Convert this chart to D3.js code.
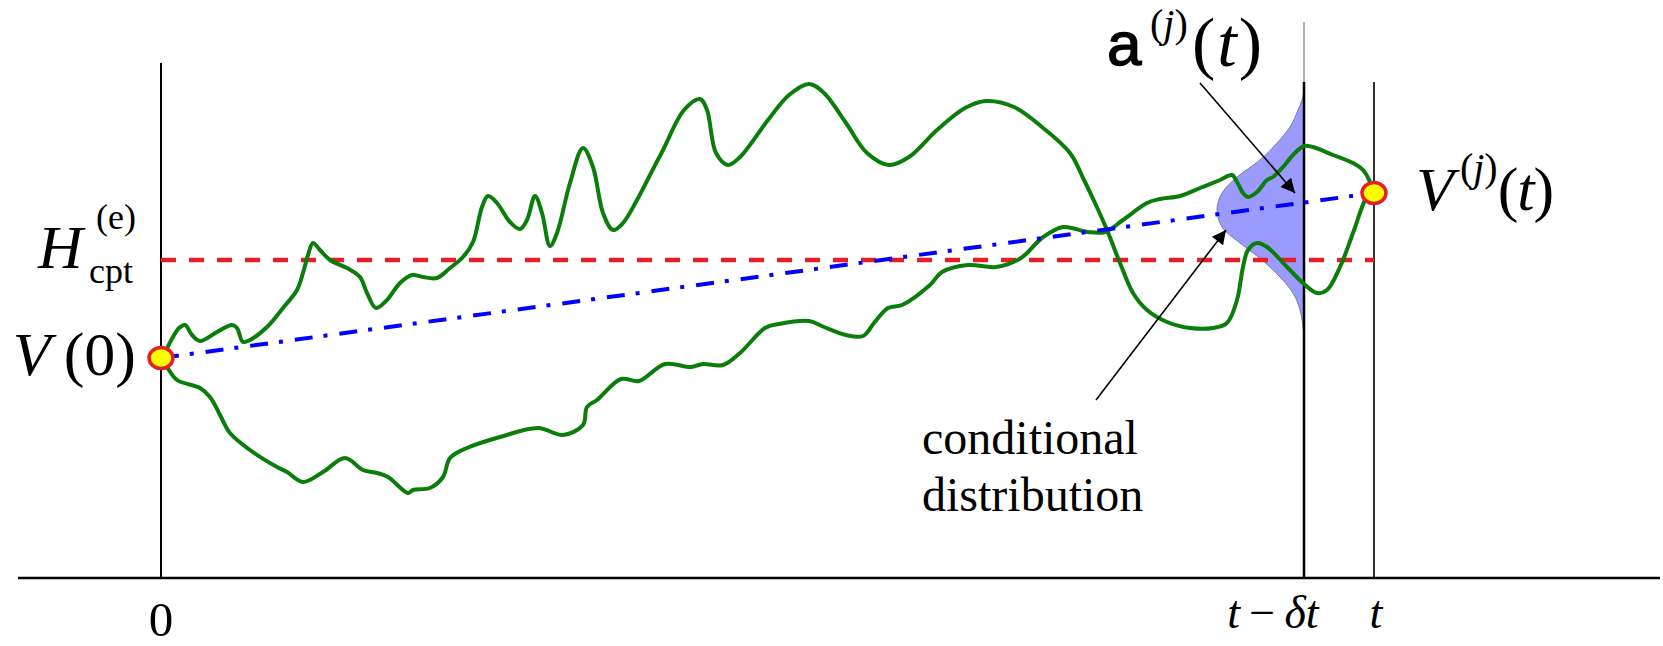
<!DOCTYPE html>
<html>
<head>
<meta charset="utf-8">
<script src="https://cdn.jsdelivr.net/npm/d3@7"></script>
<style>
  body { margin: 0; background: #fff; }
  text { font-family: "Liberation Serif", "Times New Roman", serif; fill: #000; }
</style>
</head>
<body>
<script>
// time runs 0..horizon, value 0..topValue
const horizon = 1213;
const lagTime = 1143;
const topValue = 514;
const startValue = 220;
const endValue = 385;
const thresholdValue = 318;

// two sample paths [time, value]
const upperPath = [
	[1, 221], [4, 226], [12, 241], [18, 250], [24, 253], [31, 243], [39, 237], [56, 246], [71, 253], [76, 250],
	[82, 236], [89, 238], [106, 251], [122, 270], [136, 288], [142, 305], [147, 323], [152, 335], [159, 328], [169, 318],
	[186, 310], [199, 301], [206, 285], [215, 270], [226, 278], [239, 295], [251, 303], [262, 301], [276, 300], [289, 310],
	[302, 321], [312, 336], [321, 371], [327, 382], [336, 375], [349, 356], [359, 349], [366, 358], [374, 382], [381, 365],
	[389, 332], [396, 345], [409, 395], [422, 430], [432, 411], [442, 365], [452, 348], [462, 355], [476, 378], [489, 403],
	[502, 428], [523, 468], [539, 479], [546, 468], [555, 425], [567, 413], [579, 421], [607, 458], [628, 483], [648, 494],
	[663, 485], [685, 455], [706, 425], [728, 413], [748, 421], [776, 448], [804, 470], [825, 477], [853, 471], [881, 451],
	[909, 425], [923, 398], [934, 375], [946, 348], [959, 315], [972, 285], [986, 268], [1006, 256], [1029, 250], [1052, 250],
	[1066, 255], [1076, 278], [1082, 311], [1087, 328], [1096, 335], [1106, 331], [1126, 311], [1142, 295], [1156, 285], [1166, 288],
	[1179, 311], [1192, 345], [1204, 378], [1209, 385]
];

const lowerPath = [
	[1, 218], [6, 211], [16, 198], [39, 190], [49, 181], [59, 163], [69, 145], [89, 128], [116, 111], [126, 106],
	[142, 96], [162, 106], [184, 120], [202, 108], [216, 105], [227, 101], [247, 85], [252, 88], [269, 90], [282, 101],
	[289, 120], [306, 130], [339, 141], [377, 150], [402, 143], [422, 153], [426, 171], [436, 178], [460, 199], [478, 197],
	[504, 214], [530, 211], [542, 214], [562, 213], [579, 225], [604, 250], [618, 254], [648, 257], [663, 251], [685, 243],
	[702, 242], [713, 255], [727, 270], [741, 273], [769, 293], [781, 306], [807, 313], [835, 311], [860, 320], [881, 340],
	[902, 351], [927, 346], [944, 346], [962, 358], [986, 375], [999, 379], [1019, 382], [1039, 390], [1059, 398], [1071, 403],
	[1076, 396], [1082, 385], [1087, 381], [1096, 386], [1106, 398], [1112, 401], [1122, 411], [1132, 423], [1143, 432], [1152, 431],
	[1172, 423], [1192, 415], [1202, 408], [1209, 396], [1211, 388]
];

// conditional density at t - dt: [value, width in time units]
const densityProfile = [
	[492, 0], [478, 2], [468, 6], [451, 14], [435, 27], [418, 44], [401, 67], [385, 82], [368, 87],
	[351, 82], [335, 64], [318, 42], [301, 24], [285, 11], [268, 4], [251, 1], [243, 0]
];

const tickTimes = [0, lagTime, horizon];
const tickLabels = [
	[["0", false]],
	[["t", true], ["\u2009\u2212\u2009", false], ["\u03b4t", true]],
	[["t", true]]
];

// annotation arrows [time, value]
const arrowStarts = [[1039, 495], [935, 178]];
const arrowEnds = [[1134, 385], [1065, 348]];
const noteLines = ["conditional", "distribution"];

const width = 1663, height = 646;
const svg = d3.select("body").append("svg")
	.attr("width", width)
	.attr("height", height)
	.attr("viewBox", `0 0 ${width} ${height}`);

const x = d3.scaleLinear().domain([0, horizon]).range([161, 1374]);
const y = d3.scaleLinear().domain([0, topValue]).range([578, 64]);

svg.append("defs").append("marker")
	.attr("id", "arrow")
	.attr("viewBox", "0 0 10 10")
	.attr("refX", 10)
	.attr("refY", 5)
	.attr("markerUnits", "userSpaceOnUse")
	.attr("markerWidth", 18)
	.attr("markerHeight", 14)
	.attr("orient", "auto")
	.append("path")
		.attr("d", "M0,0L10,5L0,10Z")
		.attr("fill", "#000");

// density
let area = d3.area()
	.y(d => y(d[0]))
	.x0(x(lagTime))
	.x1(d => x(lagTime - d[1]))
	.curve(d3.curveMonotoneY);

svg.append("path")
	.attr("d", area(densityProfile))
	.attr("fill", "#9a9aff")
	.attr("stroke", "#6a6a8a")
	.attr("stroke-width", 0.8);

// vertical guides
svg.append("line")
	.attr("x1", x(0)).attr("x2", x(0))
	.attr("y1", y(topValue + 1)).attr("y2", y(0))
	.attr("stroke", "#000").attr("stroke-width", 2);

svg.append("line")
	.attr("x1", x(lagTime)).attr("x2", x(lagTime))
	.attr("y1", 22).attr("y2", y(496))
	.attr("stroke", "#999").attr("stroke-width", 1.5);

svg.append("line")
	.attr("x1", x(lagTime)).attr("x2", x(lagTime))
	.attr("y1", y(496)).attr("y2", y(0))
	.attr("stroke", "#000").attr("stroke-width", 2.5);

svg.append("line")
	.attr("x1", x(horizon)).attr("x2", x(horizon))
	.attr("y1", y(496)).attr("y2", y(0))
	.attr("stroke", "#333").attr("stroke-width", 2);

// time axis
svg.append("line")
	.attr("x1", 18).attr("x2", 1660)
	.attr("y1", y(0)).attr("y2", y(0))
	.attr("stroke", "#000").attr("stroke-width", 2.5);

const tickShift = [0, -31, 2];
svg.append("g")
	.selectAll("text")
	.data(tickTimes)
	.enter()
	.append("text")
		.attr("x", (d, i) => x(d) + tickShift[i])
		.attr("y", (d, i) => i ? 628 : 636)
		.attr("text-anchor", "middle")
		.style("font-size", (d, i) => i ? "46px" : "49px")
		.each(function(d, i) {
			d3.select(this).selectAll("tspan")
				.data(tickLabels[i])
				.enter()
				.append("tspan")
					.style("font-style", p => p[1] ? "italic" : "normal")
					.text(p => p[0]);
		});

// threshold
svg.append("line")
	.attr("x1", x(0)).attr("x2", x(horizon))
	.attr("y1", y(thresholdValue)).attr("y2", y(thresholdValue))
	.attr("stroke", "#e41f26")
	.attr("stroke-width", 4.5)
	.attr("stroke-dasharray", "15 13");

// paths
let line = d3.line()
	.x(d => x(d[0]))
	.y(d => y(d[1]))
	.curve(d3.curveCatmullRom.alpha(0.5));

svg.append("g")
	.selectAll("path")
	.data([upperPath, lowerPath])
	.enter()
	.append("path")
		.attr("d", d => line(d))
		.attr("fill", "none")
		.attr("stroke", "#0a7d0a")
		.attr("stroke-width", 4)
		.attr("stroke-linejoin", "round");

// mean trend
svg.append("line")
	.attr("x1", x(0)).attr("y1", y(startValue))
	.attr("x2", x(horizon)).attr("y2", y(endValue))
	.attr("stroke", "#0000ff")
	.attr("stroke-width", 4)
	.attr("stroke-dasharray", "18 11 4 12");

// end points
svg.append("g")
	.selectAll("ellipse")
	.data([[0, startValue], [horizon, endValue]])
	.enter()
	.append("ellipse")
		.attr("cx", d => x(d[0]))
		.attr("cy", d => y(d[1]))
		.attr("rx", 12)
		.attr("ry", 10.5)
		.attr("fill", "#ffff00")
		.attr("stroke", "#e41f26")
		.attr("stroke-width", 3.5);

// arrows
svg.append("g")
	.selectAll("line")
	.data(arrowStarts)
	.enter()
	.append("line")
		.attr("x1", d => x(d[0]))
		.attr("y1", d => y(d[1]))
		.attr("x2", (d, i) => x(arrowEnds[i][0]))
		.attr("y2", (d, i) => y(arrowEnds[i][1]))
		.attr("stroke", "#000")
		.attr("stroke-width", 1.6)
		.attr("marker-end", "url(#arrow)");

// labels
svg.append("g")
	.selectAll("text")
	.data(noteLines)
	.enter()
	.append("text")
		.attr("x", 922)
		.attr("y", (d, i) => 454 + i * 57)
		.style("font-size", "48px")
		.text(d => d);

let v0 = svg.append("text")
	.attr("x", x(0) - 25)
	.attr("y", y(startValue) + 17)
	.attr("text-anchor", "end")
	.style("font-size", "62px");
v0.append("tspan").style("font-style", "italic").text("V");
v0.append("tspan").attr("dx", 13).text("(0)");

svg.append("text")
	.attr("x", 38).attr("y", y(thresholdValue) + 8)
	.style("font-size", "62px").style("font-style", "italic")
	.text("H");
svg.append("text")
	.attr("x", 96).attr("y", y(thresholdValue) - 31)
	.style("font-size", "36px")
	.text("(e)");
svg.append("text")
	.attr("x", 89).attr("y", y(thresholdValue) + 23)
	.style("font-size", "36px")
	.text("cpt");

let vt = svg.append("text")
	.attr("x", x(horizon) + 42)
	.attr("y", y(endValue) + 17)
	.style("font-size", "62px");
vt.append("tspan").style("font-style", "italic").text("V");
vt.append("tspan").attr("dx", 6).attr("dy", -29).style("font-size", "40px").text("(");
vt.append("tspan").style("font-size", "40px").style("font-style", "italic").text("j");
vt.append("tspan").style("font-size", "40px").text(")");
vt.append("tspan").attr("dy", 29).text("(");
vt.append("tspan").attr("dx", -1).style("font-style", "italic").text("t");
vt.append("tspan").attr("dx", -1).text(")");

svg.append("text")
	.attr("x", 1107).attr("y", 65)
	.style("font-family", "'Liberation Sans', Arial, sans-serif")
	.style("font-size", "62px")
	.style("stroke", "#000")
	.style("stroke-width", 1.4)
	.text("a");
let aSup = svg.append("text")
	.attr("x", 1150).attr("y", 37)
	.style("font-size", "40px");
aSup.append("tspan").text("(");
aSup.append("tspan").style("font-style", "italic").text("j");
aSup.append("tspan").text(")");
let aArg = svg.append("text")
	.attr("x", 1192).attr("y", 66)
	.style("font-size", "70px")
	.style("letter-spacing", "2px");
aArg.append("tspan").text("(");
aArg.append("tspan").style("font-style", "italic").text("t");
aArg.append("tspan").text(")");
</script>
</body>
</html>
